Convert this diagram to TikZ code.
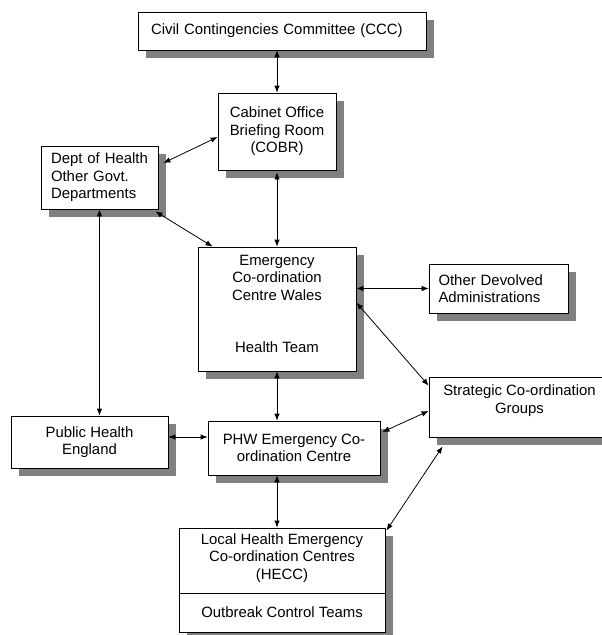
\documentclass[tikz,border=0pt]{standalone}
\usepackage{fontspec}
\setmainfont{Liberation Sans}
\usetikzlibrary{shadows,arrows.meta,calc}
\definecolor{shadowgray}{RGB}{128,128,128}
\begin{document}
\begin{tikzpicture}[x=1pt,y=-1pt,
  lbl/.style={font=\fontsize{14.9}{17.5}\selectfont},
  box/.style={draw=black, line width=0.8pt, fill=white, inner sep=0pt, lbl,
    general shadow={fill=shadowgray, shadow xshift=8pt, shadow yshift=-8pt}},
  txt/.style={inner sep=0pt, lbl, align=center},
  link/.style={line width=0.8pt, {Latex[length=7pt,width=5.5pt]}-{Latex[length=7pt,width=5.5pt]}}
]
\useasboundingbox (0,0) rectangle (602,635);
\clip (0,0) rectangle (602,635);

\node[box, minimum height=38pt, text width=262pt, inner xsep=13pt, align=left] (ccc) at (282,31) {Civil Contingencies Committee (CCC)};
\node[box, minimum width=118pt, minimum height=77pt, align=center] (cobr) at (277,131.5) {Cabinet Office\\Briefing Room\\(COBR)};
\node[box, minimum height=63pt, text width=97pt, inner xsep=10pt, align=left] (dept) at (99.5,177.5) {Dept of Health\\Other Govt.\\Departments};
\node[box, minimum width=158pt, minimum height=124pt] (eccw) at (277,309) {};
\node[txt, anchor=north] (eccwt) at (277,255) {Emergency\\Co-ordination\\Centre Wales\\[2\baselineskip]Health Team};
\node[box, minimum height=49pt, text width=120pt, inner xsep=9.5pt, align=left] (other) at (498.5,288.5) {Other Devolved\\Administrations};
\node[box, minimum width=181pt, minimum height=60pt] (strat) at (519.5,407) {};
\node[txt] (stratt) at (519.5,400.5) {Strategic Co-ordination\\Groups};
\node[box, minimum width=157pt, minimum height=52pt, align=center] (phe) at (89.5,442) {Public Health\\England};
\node[box, minimum width=172pt, minimum height=54pt, align=center] (phw) at (294,448) {PHW Emergency Co-\\ordination Centre};
\node[box, minimum width=206pt, minimum height=104pt] (hecc) at (282,580) {};
\node[txt] (hecct) at (282,558) {Local Health Emergency\\Co-ordination Centres\\(HECC)};
\node[txt] (oct) at (282,612.5) {Outbreak Control Teams};
\draw[line width=0.8pt] (hecc.west |- 0,593) -- (hecc.east |- 0,593);

\draw[link] (cobr.north |- ccc.south) -- (cobr.north);
\draw[link] ([yshift=-5.5pt]cobr.west) -- ([xshift=5pt,yshift=14.5pt]dept.east);
\draw[link] ([yshift=-2pt]cobr.south) -- (eccw.north);
\draw[link] ([xshift=-3pt,yshift=-2pt]dept.south east) -- ([xshift=15pt]eccw.north west);
\draw[link] (dept.south) -- (dept.south |- phe.north);
\draw[link] (eccw.east |- other.west) -- (other.west);
\draw[link] ([yshift=-56pt]eccw.north east) -- ([yshift=-9pt]strat.north west);
\draw[link] (eccw.south) -- (eccw.south |- phw.north);
\draw[link] ($(phe.east)+(0,-5)$) -- ($(phw.west |- phe.east)+(0,-5)$);
\draw[link] ([xshift=2pt,yshift=16pt]phw.east) -- ([yshift=-4pt]strat.west);
\draw[link] (eccw.south |- phw.south) -- (eccw.south |- hecc.north);
\draw[link] ([xshift=14pt,yshift=-9pt]strat.south west) -- ([xshift=1pt,yshift=-3pt]hecc.north east);
\end{tikzpicture}
\end{document}
